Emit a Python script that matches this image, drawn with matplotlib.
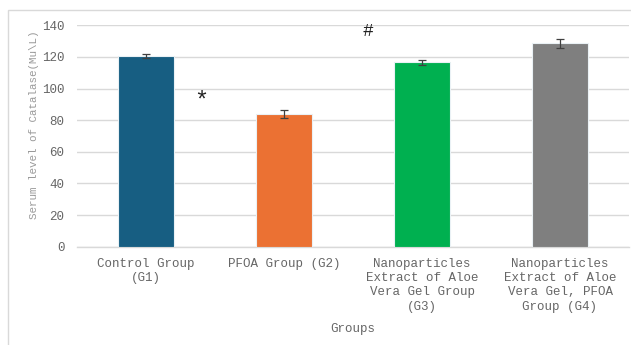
import matplotlib
matplotlib.use("Agg")
import matplotlib.pyplot as plt
from matplotlib.patches import Rectangle

categories = [
    "Control Group\n(G1)",
    "PFOA Group (G2)",
    "Nanoparticles\nExtract of Aloe\nVera Gel Group\n(G3)",
    "Nanoparticles\nExtract of Aloe\nVera Gel, PFOA\nGroup (G4)",
]
values = [120.6, 84.1, 116.6, 128.6]
errors = [1.0, 2.5, 1.5, 3.0]
colors = ["#175E82", "#EB7133", "#00B050", "#7F7F7F"]
y_ticks = [0, 20, 40, 60, 80, 100, 120, 140]

# significance marks: (x position, y position, symbol)
marks = [(0.40, 94.0, "*"), (1.61, 137.5, "#")]

text_color = "#666666"
grid_color = "#D9D9D9"
font = ["Liberation Mono", "DejaVu Sans Mono"]

fig = plt.figure(figsize=(6.31, 3.45), dpi=100)
fig.patch.set_facecolor("white")

# light frame around the chart area
fig.patches.append(Rectangle((8 / 631, -0.1), 1.2, 1.1 - 10 / 345,
                             transform=fig.transFigure, fill=False,
                             edgecolor="#D9D9D9", linewidth=1.0))

ax = fig.add_axes([77 / 631, 1 - 246.7 / 345, 552 / 631, (246.7 - 25.3) / 345])
x = range(len(categories))
ax.bar(x, values, width=0.4, color=colors, edgecolor="#EAF1F5", linewidth=0.8,
       zorder=3)
ax.errorbar(x, values, yerr=errors, fmt="none", ecolor="#404040",
            elinewidth=0.9, capsize=3, capthick=0.9, zorder=4)

for mx, my, sym in marks:
    size = 17 if sym == "*" else 13
    ax.text(mx, my, sym, ha="center", va="center_baseline", fontsize=size,
            color="#222222", family=font)

ax.set_xlim(-0.5, len(categories) - 0.5)
ax.set_ylim(0, 140)
ax.set_yticks(y_ticks)
ax.yaxis.grid(True, color=grid_color, linewidth=1.0, zorder=0)
ax.set_axisbelow(True)
for side in ["top", "right", "left"]:
    ax.spines[side].set_visible(False)
ax.spines["bottom"].set_color(grid_color)
ax.spines["bottom"].set_linewidth(1.0)
ax.tick_params(axis="both", length=0, colors=text_color)
ax.tick_params(axis="y", pad=9)
ax.tick_params(axis="x", pad=8)

ax.set_xticks(list(x))
ax.set_xticklabels(categories, family=font, fontsize=9, color=text_color,
                   linespacing=1.25)
for lbl in ax.get_yticklabels():
    lbl.set_family(font)
    lbl.set_fontsize(9)
    lbl.set_color(text_color)

ax.set_xlabel("Groups", family=font, fontsize=9, color=text_color)
ax.xaxis.set_label_coords(0.5, -0.345)
ax.set_ylabel("Serum level of Catalase(Mu\\L)", family=font, fontsize=7.8,
              color="#999999")
ax.yaxis.set_label_coords(-0.068, 0.55)

fig.savefig("out.png", dpi=100)
